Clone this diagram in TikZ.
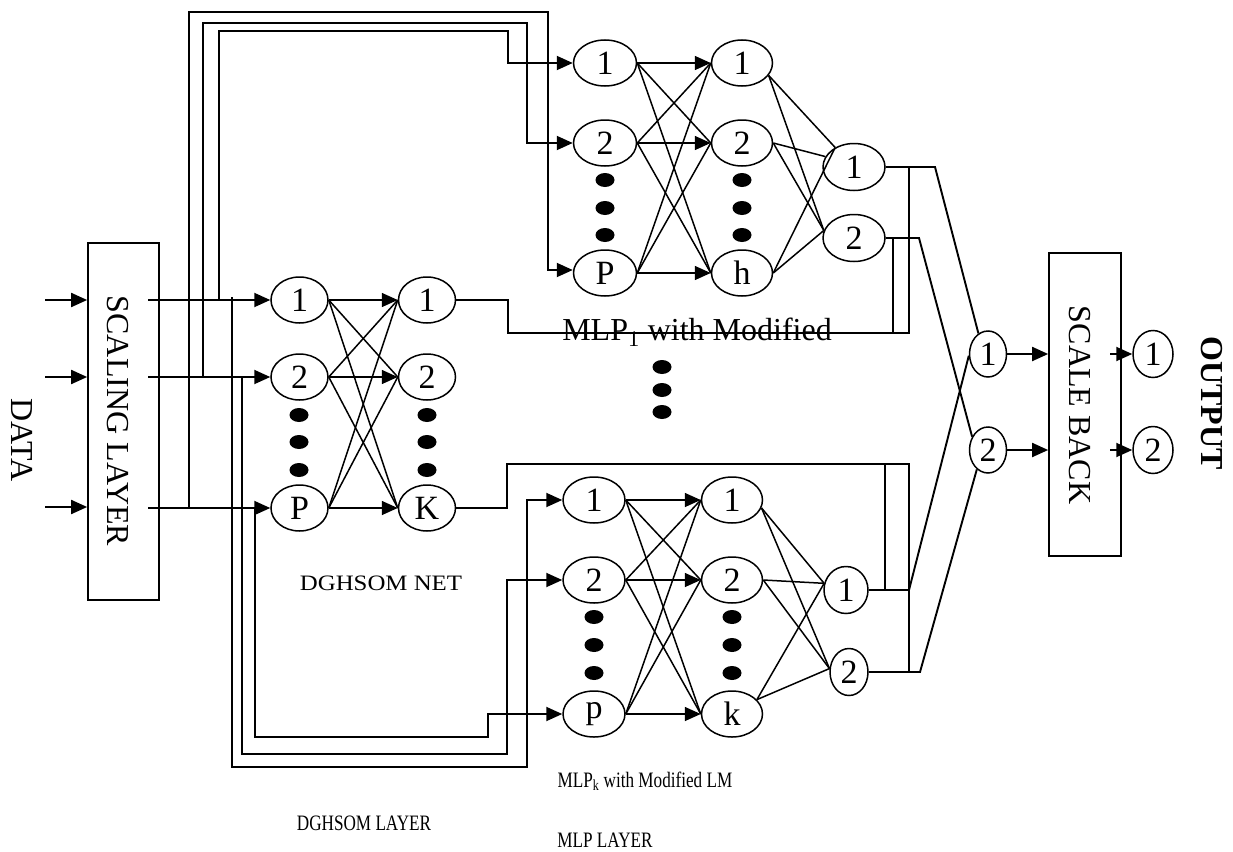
\documentclass[tikz,border=0pt]{standalone}
\usepackage{fontspec}
\setmainfont{Liberation Serif}
\usetikzlibrary{shapes.geometric,arrows.meta,calc}
\begin{document}
\begin{tikzpicture}[x=1pt,y=-1pt,
  nrn/.style={draw,ellipse,line width=1.5pt,inner sep=0pt,minimum height=46pt,minimum width=#1,font=\fontsize{34}{34}\selectfont},
  nrn/.default=60pt,
  box/.style={draw,rectangle,line width=1.7pt,inner sep=0pt},
  big/.style={font=\fontsize{32}{34}\selectfont},
  bigbold/.style={font=\fontsize{32}{34}\selectfont\bfseries},
  small/.style={font=\fontsize{22}{24}\selectfont},
  arr/.style={line width=1.9pt,-{Triangle[length=16pt,width=14pt]}},
  wire/.style={line width=1.9pt},
  syn/.style={line width=1.5pt},
  dotmark/.style={fill=black}]
\useasboundingbox (0,0) rectangle (1233,851);

% boxes and big labels
\node[box,minimum width=71pt,minimum height=357pt] (sc) at (123.5,421.5) {};
\node[big,rotate=-90] (sct) at (118,421) {SCALING LAYER};
\node[box,minimum width=72pt,minimum height=303pt] (sb) at (1085,404.5) {};
\node[big,rotate=-90] (sbt) at (1080,405) {SCALE BACK};
\node[bigbold,rotate=-90] (outt) at (1212,403) {OUTPUT};
\node[big,rotate=-90] (datat) at (22,440) {DATA};

% input arrows
\coordinate (in1) at (45,300);
\coordinate (in2) at (45,377);
\coordinate (in3) at (45,507);
\draw[arr] (in1) -- (in1 -| sc.west);
\draw[arr] (in2) -- (in2 -| sc.west);
\draw[arr] (in3) -- (in3 -| sc.west);

% DGHSOM nodes
\node[nrn=57pt] (a1) at (299.5,300) {1};
\node[nrn=57pt] (a2) at (299.5,377) {2};
\node[nrn=57pt] (a3) at (299.5,508) {P};
\node[nrn=57pt] (b1) at (427,300) {1};
\node[nrn=57pt] (b2) at (427,377) {2};
\node[nrn=57pt] (b3) at (427,508) {K};

% scaling layer outputs
\coordinate (s1) at (148,300);
\coordinate (s2) at (148,377);
\coordinate (s3) at (148,508);
\draw[arr] (s1) -- (a1);
\draw[arr] (s2) -- (a2);
\draw[arr] (s3) -- (a3);

% DGHSOM connections
\foreach \i in {1,2,3}{\draw[arr,line width=1.6pt] (a\i) -- (b\i);}
\foreach \i/\j in {1/2,1/3,2/1,2/3,3/1,3/2}{\draw[syn] (a\i.east) -- (b\j.west);}

% MLP1
\node[nrn=63pt] (mi1) at (605,63) {1};
\node[nrn=63pt] (mi2) at (605,143) {2};
\node[nrn=63pt] (mi3) at (605,273) {P};
\node[nrn=61pt] (mh1) at (742,63) {1};
\node[nrn=61pt] (mh2) at (742,143) {2};
\node[nrn=61pt] (mh3) at (742,273) {h};
\node[nrn=62pt,minimum height=47pt] (mo1) at (854,167) {1};
\node[nrn=62pt,minimum height=47pt] (mo2) at (854,238) {2};
\foreach \i in {1,2,3}{\draw[arr,line width=1.6pt] (mi\i) -- (mh\i);}
\foreach \i/\j in {1/2,1/3,2/1,2/3,3/1,3/2}{\draw[syn] (mi\i.east) -- (mh\j.west);}
\draw[syn] (mh1.-25) -- (mo1.134);
\draw[syn] (mh1.-25) -- (mo2.166);
\draw[syn] (mh2.east) -- (mo1.160);
\draw[syn] (mh2.east) -- (mo2.166);
\draw[syn] (mh3.east) -- (mo1.134);
\draw[syn] (mh3.east) -- (mo2.166);

% MLPk
\node[nrn=62pt] (ki1) at (594,500) {1};
\node[nrn=62pt] (ki2) at (594,580) {2};
\node[nrn=62pt] (ki3) at (594,714) {p};
\node[nrn=61pt] (kh1) at (732,500) {1};
\node[nrn=61pt] (kh2) at (732,580) {2};
\node[nrn=61pt] (kh3) at (732,714) {k};
\node[nrn=44pt,minimum height=47pt] (ko1) at (846,590) {1};
\node[nrn=38pt,minimum height=47pt] (ko2) at (849,672) {2};
\foreach \i in {1,2,3}{\draw[arr,line width=1.6pt] (ki\i) -- (kh\i);}
\foreach \i/\j in {1/2,1/3,2/1,2/3,3/1,3/2}{\draw[syn] (ki\i.east) -- (kh\j.west);}
\draw[syn] (kh1.-15) -- (ko1.163);
\draw[syn] (kh1.-15) -- (ko2.170);
\draw[syn] (kh2.east) -- (ko1.163);
\draw[syn] (kh2.east) -- (ko2.170);
\draw[syn] (kh3.30) -- (ko1.163);
\draw[syn] (kh3.30) -- (ko2.170);

% final and output nodes
\node[nrn=37pt] (f1) at (988,354) {1};
\node[nrn=37pt] (f2) at (988,450) {2};
\node[nrn=40pt,minimum height=47pt] (q1) at (1153,354) {1};
\node[nrn=40pt,minimum height=47pt] (q2) at (1153,450) {2};

% routing to MLP1
\coordinate (u1) at (219,300);
\coordinate (u2) at (203,377);
\coordinate (u3) at (189,508);
\draw[arr] (u1) -- (219,31) -- (508,31) |- (mi1.west);
\draw[arr] (u2) -- (203,23) -- (527,23) |- (mi2.west);
\draw[arr] (u3) -- (189,12) -- (548,12) |- ([yshift=3pt]mi3.west);

% routing to MLPk
\coordinate (d1) at (232,297);
\coordinate (d2) at (242,377);
\coordinate (d3) at (255,508);
\draw[arr] (d1) -- (232,767) -- (527,767) |- (ki1.west);
\draw[arr] (d2) -- (242,754) -- (507,754) |- (ki2.west);
\draw[arr] (d3) -- (255,737) -- (488,737) |- (ki3.west);

% output routing
\draw[wire] (mo1.east) -- (935,167) -- (f1.115);
\draw[wire] (mo2.east) -- (919,238) -- (f2.140);
\draw[wire] (ko1.east) -- (909,590) -- (f1.185);
\draw[wire] (ko2.east) -- (920,672) -- (f2.240);
\draw[wire] (b1.east) -- (508,300) -- (508,333) -- (909,333) -- (909,167);
\draw[wire] (893,333) -- (893,238);
\draw[wire] (b3.east) -- (507,508) -- (507,464) -- (909,464) -- (909,672);
\draw[wire] (885,464) -- (885,590);

% to scale back and outputs
\draw[arr] (f1.east) -- (f1.east -| sb.west);
\draw[arr] (f2.east) -- (f2.east -| sb.west);
\coordinate (t1) at (1110,354);
\coordinate (t2) at (1110,450);
\draw[arr] (t1) -- (q1);
\draw[arr] (t2) -- (q2);

% dots
\foreach \x in {299,427}{\foreach \y in {415,442,470}{\fill[dotmark] (\x,\y) ellipse [x radius=9.5pt,y radius=7pt];}}
\foreach \x in {605,742}{\foreach \y in {180,208,235}{\fill[dotmark] (\x,\y) ellipse [x radius=9.5pt,y radius=7pt];}}
\foreach \x in {594,732}{\foreach \y in {617,645,673}{\fill[dotmark] (\x,\y) ellipse [x radius=9.5pt,y radius=7pt];}}
\foreach \y in {367,390,412}{\fill[dotmark] (662,\y) ellipse [x radius=9.5pt,y radius=7pt];}

% labels
\node[big,anchor=base] (mlp1t) at (697,340) {MLP\textsubscript{1} with Modified};
\node[small,anchor=base] (netT) at (381,590) {\scalebox{1.13}[1]{DGHSOM NET}};
\node[small,anchor=base] (mlpkt) at (645,787) {\scalebox{0.78}[1]{MLP\textsubscript{k} with Modified LM}};
\node[small,anchor=base] (layT) at (364,830) {\scalebox{0.78}[1]{DGHSOM LAYER}};
\node[small,anchor=base] (mlpL) at (605,847) {\scalebox{0.78}[1]{MLP LAYER}};
\end{tikzpicture}
\end{document}
